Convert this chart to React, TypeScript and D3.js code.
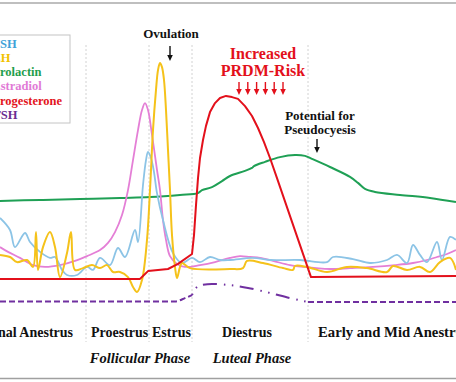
import React from "react";
import * as d3 from "d3";

// time in arbitrary cycle units, level in relative hormone units
const FSH: [number, number][] = [
  [0, 34], [2.5, 30], [3.75, 24.3], [6.25, 29], [7.5, 26], [10, 22.7], [12.5, 20.7], [13.75, 21],
  [15.5, 16.7], [16.75, 15], [19.25, 15], [21.75, 17.7], [23.25, 16.7], [25, 20.7], [27.5, 18.3],
  [29.5, 24], [31.25, 21], [33.75, 30], [34.5, 26], [35.75, 45], [36.5, 53.3], [37, 56], [37.75, 54],
  [38.5, 49.3], [39.25, 42.3], [40.75, 33.3], [43.25, 22.3], [45.5, 19], [48, 20.7], [50, 19.3],
  [52.5, 21], [55, 20], [57.5, 20], [63.25, 20.7], [67.5, 20], [75, 20], [81.75, 19.3], [83.25, 21],
  [88.25, 20.3], [92.5, 19], [96.75, 20], [99.25, 21.7], [101.75, 19], [103.25, 25], [105, 21.7],
  [106.75, 19.3], [109.25, 26], [110.5, 20], [112.5, 27.7], [114, 26.7],
];

const LH: [number, number][] = [
  [0, 21.7], [2.5, 21], [4.25, 19.3], [6.75, 20], [8.25, 17.7], [9, 29.3], [9.5, 16.7], [10.75, 24.3],
  [12.5, 29.3], [13.75, 24.3], [15, 14.3], [16.75, 22.3], [17.75, 29.3], [18.75, 16.7], [20.75, 17.3],
  [23, 18.3], [25, 17.3], [26.75, 18.3], [28.25, 16], [30, 16], [32, 14.3], [33.25, 11], [34.25, 9.3],
  [35.5, 13.3], [36.75, 26.7], [37.5, 43.3], [38.25, 63.3], [39, 76.7], [39.5, 83.3], [40, 85.7],
  [40.5, 84.3], [41, 80], [41.5, 70], [42, 56.7], [42.5, 43.3], [43, 28.3], [43.75, 17.7], [44.25, 14],
  [45, 17.7], [45.5, 19], [47.5, 17.3], [57.5, 17], [60.75, 17.3], [61.75, 19.7], [65.75, 19],
  [70.75, 17.3], [73.25, 16.7], [73.75, 18], [76.75, 17.7], [81.75, 16], [86.75, 17.7], [91.75, 17.3],
  [96.75, 16], [98.25, 18], [101.75, 16.7], [105, 17.7], [107.5, 16], [110, 19.3], [112.5, 20.7], [114, 16.7],
];

const PROLACTIN: [number, number][] = [
  [0, 39.7], [10, 40], [20, 40.3], [30, 40.7], [37.5, 41], [45, 41.7], [49.5, 42.3], [50.5, 43.3],
  [53, 44.3], [55.5, 46.3], [57.5, 48], [61.25, 49.7], [63, 50.7], [63.5, 51.3], [66.25, 52.7],
  [70, 54.3], [73.75, 55], [76.25, 54.7], [78, 53.7], [82.5, 51], [87.5, 47.7], [89.5, 45.7],
  [91.25, 43.7], [93.75, 42.7], [100, 41.7], [107.5, 40.7], [114, 39.3],
];

const ESTRADIOL: [number, number][] = [
  [0, 24.3], [2, 22.7], [5, 20.7], [8.25, 18.3], [11.25, 17.7], [15, 18.3], [18.75, 19.7], [21.75, 21.3],
  [25, 23.3], [27, 25.7], [28.75, 29.3], [30.5, 35], [32, 43.3], [33.25, 53.3], [34.5, 63.3], [35.5, 70],
  [36.25, 72.3], [37, 70], [38, 61.7], [39.25, 50], [40, 43.3], [40.75, 33.3], [41.5, 26.7], [42.5, 21.3],
  [44.25, 18.7], [46.25, 17.7], [50, 18.3], [53.75, 19.3], [57.5, 20.7], [60, 21.3], [62.5, 21], [65, 20.7],
  [68.25, 19.7], [72.5, 18.3], [75.75, 17.7], [82.5, 17], [87.5, 17.3], [93.25, 17.7], [98.75, 18.3],
  [103.25, 19], [106.75, 20], [109.25, 21], [111.75, 22], [114, 23.3],
];

const PROGESTERONE: [number, number][] = [
  [0, 13.7], [35, 13.7], [36, 15], [37, 16.3], [42, 17], [44.5, 18.7], [48, 22], [48.5, 28.3], [49, 38.3],
  [49.5, 47.3], [50, 54], [50.75, 60], [51.5, 64.7], [52.5, 69.3], [53.75, 72.3], [55, 74], [56.5, 74.7],
  [58, 74.3], [59.5, 73.7], [61.25, 71.3], [63, 68], [64.5, 64], [66, 59.3], [67.5, 54], [69.25, 47.3],
  [77.75, 14.3], [114, 14.7],
];

const TSH: [number, number][] = [
  [0, 6.2], [43.75, 6.2], [46.25, 7.3], [48, 8.3], [49, 10.7], [50.5, 11.7], [53, 12], [57, 11.7],
  [62, 10.7], [67.5, 9], [72.5, 7.3], [77, 6], [114, 6],
];

const PHASE_BOUNDS = [21.5, 37.25, 48, 77];
const LEGEND_LABELS = ["FSH", "LH", "Prolactin", "Estradiol", "Progesterone", "TSH"];
const LEGEND_COLORS = ["#3fa2d8", "#f2c200", "#1f9e4c", "#e17ad6", "#e3141c", "#6b2c91"];
const PHASE_LABELS = ["Terminal Anestrus", "Proestrus", "Estrus", "Diestrus", "Early and Mid Anestrus"];
const PHASE_GROUPS = ["Follicular Phase", "Luteal Phase"];

const W = 456;
const H = 382;
const x = d3.scaleLinear().domain([0, 114]).range([0, 456]);
const y = d3.scaleLinear().domain([0, 100]).range([320, 20]);

const smooth = d3.line<[number, number]>().x((d) => x(d[0])).y((d) => y(d[1])).curve(d3.curveCatmullRom.alpha(0.5));
const straight = d3.line<[number, number]>().x((d) => x(d[0])).y((d) => y(d[1]));
const mono = d3.line<[number, number]>().x((d) => x(d[0])).y((d) => y(d[1])).curve(d3.curveMonotoneX);

const serif = "'Liberation Serif', 'Times New Roman', serif";

function Arrow({ x0, y0, y1, color }: { x0: number; y0: number; y1: number; color: string }) {
  return (
    <g>
      <line x1={x0} y1={y0} x2={x0} y2={y1 - 5} stroke={color} strokeWidth={1.4} />
      <path d={`M${x0 - 2.8},${y1 - 6} L${x0 + 2.8},${y1 - 6} L${x0},${y1} Z`} fill={color} />
    </g>
  );
}

export default function App() {
  const tshA = TSH.filter((d) => d[0] <= 48);
  const tshB = TSH.filter((d) => d[0] >= 48 && d[0] <= 77);
  const tshC = TSH.filter((d) => d[0] >= 77);
  const redArrows = d3.range(6).map((i) => 239 + i * 8.8);
  return (
    <svg width={W} height={H} style={{ position: "absolute", left: 0, top: 0, display: "block", background: "#fff" }}>
      <rect x={0} y={0} width={W} height={H} fill="#fff" />
      <line x1={0} x2={W} y1={3} y2={3} stroke="#aaaaaa" strokeWidth={1.6} />
      <line x1={0} x2={W} y1={378.5} y2={378.5} stroke="#a0a0a0" strokeWidth={1.6} />

      {PHASE_BOUNDS.map((b, i) => (
        <line key={i} x1={x(b)} x2={x(b)} y1={45} y2={342} stroke="#d2d2d2" strokeWidth={1} strokeDasharray="2 2" />
      ))}

      {/* TSH */}
      <path d={mono(tshA) || ""} fill="none" stroke="#7030a0" strokeWidth={2} strokeDasharray="6 3" />
      <path d={mono(tshB) || ""} fill="none" stroke="#7030a0" strokeWidth={2} strokeDasharray="14 7 1.5 6.5 1.5 6.5" strokeDashoffset={21} />
      <path d={mono(tshC) || ""} fill="none" stroke="#7030a0" strokeWidth={2} strokeDasharray="6 3" />

      <path d={smooth(PROLACTIN) || ""} fill="none" stroke="#1fa055" strokeWidth={2} />
      <path d={smooth(ESTRADIOL) || ""} fill="none" stroke="#e47fd6" strokeWidth={1.8} />
      <path d={smooth(FSH) || ""} fill="none" stroke="#8cc4e6" strokeWidth={1.8} />
      <path d={smooth(LH) || ""} fill="none" stroke="#f5c21a" strokeWidth={2} />
      <path d={straight(PROGESTERONE) || ""} fill="none" stroke="#e3101b" strokeWidth={2} strokeLinejoin="round" />

      {/* legend */}
      <rect x={-6} y={35} width={76} height={88} fill="#fff" stroke="#c4c4c4" strokeWidth={1} />
      {LEGEND_LABELS.map((l, i) => (
        <text key={l} x={-7.6} y={47.8 + i * 14.2} fontFamily={serif} fontWeight="bold" fontSize={12.5} fill={LEGEND_COLORS[i]}>
          {l}
        </text>
      ))}

      {/* annotations */}
      <text x={171} y={37.5} textAnchor="middle" fontFamily={serif} fontWeight="bold" fontSize={13} fill="#111">Ovulation</text>
      <Arrow x0={170} y0={46} y1={61} color="#111" />
      <text x={263} y={58.5} textAnchor="middle" fontFamily={serif} fontWeight="bold" fontSize={16} fill="#e3101b">Increased</text>
      <text x={263} y={76} textAnchor="middle" fontFamily={serif} fontWeight="bold" fontSize={16} fill="#e3101b">PRDM-Risk</text>
      {redArrows.map((ax, i) => (
        <Arrow key={i} x0={ax} y0={82} y1={95} color="#e3101b" />
      ))}
      <text x={320} y={119.5} textAnchor="middle" fontFamily={serif} fontWeight="bold" fontSize={13} fill="#111">Potential for</text>
      <text x={320} y={133.5} textAnchor="middle" fontFamily={serif} fontWeight="bold" fontSize={13} fill="#111">Pseudocyesis</text>
      <Arrow x0={317} y0={139} y1={153} color="#111" />

      {/* phase labels */}
      <text x={73} y={337} textAnchor="end" fontFamily={serif} fontWeight="bold" fontSize={14} fill="#111">{PHASE_LABELS[0]}</text>
      <text x={91} y={337} fontFamily={serif} fontWeight="bold" fontSize={14} fill="#111">{PHASE_LABELS[1]}</text>
      <text x={152} y={337} fontFamily={serif} fontWeight="bold" fontSize={14} fill="#111">{PHASE_LABELS[2]}</text>
      <text x={247} y={337} textAnchor="middle" fontFamily={serif} fontWeight="bold" fontSize={14} fill="#111">{PHASE_LABELS[3]}</text>
      <text x={318} y={337} fontFamily={serif} fontWeight="bold" fontSize={14.7} fill="#111">{PHASE_LABELS[4]}</text>
      <text x={140} y={362.5} textAnchor="middle" fontFamily={serif} fontWeight="bold" fontStyle="italic" fontSize={14.5} fill="#111">{PHASE_GROUPS[0]}</text>
      <text x={252} y={362.5} textAnchor="middle" fontFamily={serif} fontWeight="bold" fontStyle="italic" fontSize={14.5} fill="#111">{PHASE_GROUPS[1]}</text>
    </svg>
  );
}
